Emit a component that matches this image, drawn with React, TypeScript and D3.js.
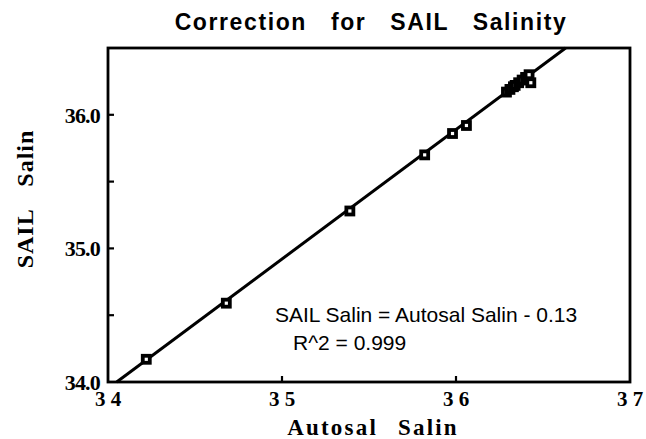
import * as d3 from "d3";

// values
const autosal = [34.22, 34.68, 35.39, 35.82, 35.98, 36.06, 36.29, 36.31, 36.33, 36.34, 36.36, 36.38, 36.4, 36.42, 36.43];
const sail = [34.17, 34.59, 35.28, 35.7, 35.86, 35.92, 36.17, 36.19, 36.21, 36.22, 36.24, 36.26, 36.28, 36.3, 36.24];
// regression line end points
const fitX = [34.05, 36.63];
const fitY = [34.0, 36.5];

const xTicks = [34, 35, 36, 37];
const xTickLabels = ["3 4", "3 5", "3 6", "3 7"];
const yTicks = [34, 35, 36];
const yTickLabels = ["34.0", "35.0", "36.0"];
const yMinorTicks = [34.5, 35, 35.5, 36];

const W = 646;
const H = 439;
const margin = { top: 48, right: 16, bottom: 57, left: 108 };

const serif = "'Liberation Serif', 'Times New Roman', serif";
const sans = "'Liberation Sans', Arial, sans-serif";

export default function App() {
  const x = d3.scaleLinear().domain([34, 37]).range([margin.left, W - margin.right]);
  const y = d3.scaleLinear().domain([34, 36.5]).range([H - margin.bottom, margin.top]);

  const line = d3
    .line<number>()
    .x((_, i) => x(fitX[i]))
    .y((_, i) => y(fitY[i]));

  const pts = autosal.map((a, i) => ({ a, s: sail[i] }));
  const [x0, x1] = x.range();
  const [y0, y1] = y.range();

  return (
    <svg
      width={W}
      height={H}
      style={{ position: "absolute", left: 0, top: 0, background: "#fff" }}
    >
      <rect x={0} y={0} width={W} height={H} fill="#fff" />
      <text
        x={(x0 + x1) / 2 + 2}
        y={30}
        textAnchor="middle"
        fontFamily={sans}
        fontWeight="bold"
        fontSize={23}
        letterSpacing={1.6}
        wordSpacing={16}
      >
        Correction for SAIL Salinity
      </text>

      {/* plot frame */}
      <rect x={x0} y={y1} width={x1 - x0} height={y0 - y1} fill="none" stroke="#000" strokeWidth={2.8} />

      {/* y ticks */}
      {yMinorTicks.map((t) => (
        <line key={t} x1={x0} x2={x0 + 6} y1={y(t)} y2={y(t)} stroke="#000" strokeWidth={2.2} />
      ))}
      {yTicks.map((t, i) => (
        <text
          key={t}
          x={x0 - 8}
          y={y(t) + 8}
          textAnchor="end"
          fontFamily={serif}
          fontWeight="bold"
          fontSize={22}
          letterSpacing={-0.8}
        >
          {yTickLabels[i]}
        </text>
      ))}

      {/* x ticks */}
      {xTicks.slice(1, -1).map((t) => (
        <line key={t} x1={x(t)} x2={x(t)} y1={y0} y2={y0 - 6} stroke="#000" strokeWidth={2.2} />
      ))}
      {xTicks.map((t, i) => (
        <text
          key={t}
          x={x(t)}
          y={y0 + 24}
          textAnchor="middle"
          fontFamily={serif}
          fontWeight="bold"
          fontSize={21}
        >
          {xTickLabels[i]}
        </text>
      ))}

      {/* axis titles */}
      <text
        x={(x0 + x1) / 2 + 4}
        y={H - 4}
        textAnchor="middle"
        fontFamily={serif}
        fontWeight="bold"
        fontSize={23}
        letterSpacing={2.2}
        wordSpacing={12}
      >
        Autosal Salin
      </text>
      <text
        transform={`translate(33, ${(y0 + y1) / 2 - 16}) rotate(-90)`}
        textAnchor="middle"
        fontFamily={serif}
        fontWeight="bold"
        fontSize={24}
        letterSpacing={1}
        wordSpacing={16}
      >
        SAIL Salin
      </text>

      {/* fit line */}
      <path d={line(fitX) ?? ""} fill="none" stroke="#000" strokeWidth={3} />

      {/* points: heavy squares with a small white centre */}
      {pts.map((p, i) => (
        <rect
          key={i}
          x={x(p.a) - 3.5}
          y={y(p.s) - 3.5}
          width={7}
          height={7}
          fill="#fff"
          stroke="#000"
          strokeWidth={3.8}
        />
      ))}

      {/* annotation */}
      <text x={275} y={322} fontFamily={sans} fontSize={21}>
        SAIL Salin = Autosal Salin - 0.13
      </text>
      <text x={293} y={350} fontFamily={sans} fontSize={21}>
        R^2 = 0.999
      </text>
    </svg>
  );
}
